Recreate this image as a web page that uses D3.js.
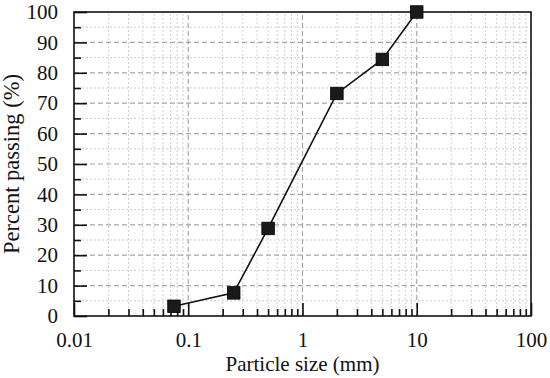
<!DOCTYPE html>
<html>
<head>
<meta charset="utf-8">
<script src="https://cdn.jsdelivr.net/npm/d3@7"></script>
<style>
  body { margin: 0; background: #fff; }
</style>
</head>
<body>
<svg id="chart"></svg>
<script>
const width = 550
const height = 378
const serif = '"Liberation Serif", "Times New Roman", serif'

// particle size (mm) vs percent passing (%)
const sizes = [0.075, 0.25, 0.5, 2, 5, 10]
const passing = [3.2, 7.6, 28.8, 73.2, 84.4, 100]
const xTicks = [0.01, 0.1, 1, 10, 100]
const yTicks = [0, 10, 20, 30, 40, 50, 60, 70, 80, 90, 100]

const margin = { top: 12, right: 19, bottom: 62, left: 74 }

const svg = d3.select('#chart').attr('width', width).attr('height', height)

const x = d3.scaleLog().domain([0.01, 100]).range([margin.left, width - margin.right])
const y = d3.scaleLinear().domain([0, 100]).range([height - margin.bottom, margin.top])

const x0 = x.range()[0], x1 = x.range()[1]
const y0 = y.range()[0], y1 = y.range()[1]

// minor positions
const xMinor = []
for (let d = 0.01; d < 100; d *= 10) {
  for (let k = 2; k <= 9; k++) xMinor.push(+(d * k).toPrecision(3))
}
const yMinor = d3.range(5, 100, 10)

const grid = svg.append('g').attr('class', 'grid')

grid.selectAll('.xminor')
  .data(xMinor)
  .enter().append('line')
  .attr('x1', d => x(d)).attr('x2', d => x(d))
  .attr('y1', y0).attr('y2', y1)
  .attr('stroke', '#cfcfcf').attr('stroke-width', 1)
  .attr('stroke-dasharray', '2,2')

grid.selectAll('.yminor')
  .data(yMinor)
  .enter().append('line')
  .attr('x1', x0).attr('x2', x1)
  .attr('y1', d => y(d)).attr('y2', d => y(d))
  .attr('stroke', '#cfcfcf').attr('stroke-width', 1)
  .attr('stroke-dasharray', '2,2')

grid.selectAll('.xmajor')
  .data(xTicks.slice(1, -1))
  .enter().append('line')
  .attr('x1', d => x(d)).attr('x2', d => x(d))
  .attr('y1', y0).attr('y2', y1)
  .attr('stroke', '#a8a8a8').attr('stroke-width', 1.2)
  .attr('stroke-dasharray', '5,3')

grid.selectAll('.ymajor')
  .data(yTicks.slice(1, -1))
  .enter().append('line')
  .attr('x1', x0).attr('x2', x1)
  .attr('y1', d => y(d)).attr('y2', d => y(d))
  .attr('stroke', '#a8a8a8').attr('stroke-width', 1.2)
  .attr('stroke-dasharray', '5,3')

// axes with inward ticks
svg.append('g')
  .attr('transform', `translate(0,${y0})`)
  .call(d3.axisBottom(x).tickValues(xTicks).tickSize(-13).tickPadding(16).tickFormat(d => String(d)))
svg.append('g')
  .attr('transform', `translate(0,${y0})`)
  .call(d3.axisBottom(x).tickValues(xMinor).tickSize(-7).tickFormat(''))

svg.append('g')
  .attr('transform', `translate(${x0},0)`)
  .call(d3.axisLeft(y).tickValues(yTicks).tickSize(-13).tickPadding(16))
svg.append('g')
  .attr('transform', `translate(${x0},0)`)
  .call(d3.axisLeft(y).tickValues(yMinor).tickSize(-7).tickFormat(''))

svg.selectAll('.domain').remove()
svg.selectAll('.tick line').attr('stroke', '#111').attr('stroke-width', 1.6)
svg.selectAll('.tick text')
  .style('font-family', serif)
  .style('font-size', '21px')
  .attr('fill', '#111')

// frame
svg.append('rect')
  .attr('x', x0).attr('y', y1)
  .attr('width', x1 - x0).attr('height', y0 - y1)
  .attr('fill', 'none').attr('stroke', '#111').attr('stroke-width', 1.6)

// series
const points = sizes.map((s, i) => ({ s, p: passing[i] }))

svg.append('path')
  .datum(points)
  .attr('fill', 'none')
  .attr('stroke', '#111')
  .attr('stroke-width', 1.6)
  .attr('d', d3.line().x(d => x(d.s)).y(d => y(d.p)))

const m = 12.5
svg.append('g').selectAll('rect')
  .data(points)
  .enter().append('rect')
  .attr('x', d => x(d.s) - m / 2)
  .attr('y', d => y(d.p) - m / 2)
  .attr('width', m).attr('height', m)
  .attr('fill', '#1a1a1a')
  .attr('stroke', '#000').attr('stroke-width', 0.8)

// axis titles
svg.append('text')
  .attr('x', (x0 + x1) / 2)
  .attr('y', 371)
  .attr('text-anchor', 'middle')
  .style('font-family', serif)
  .style('font-size', '21px')
  .attr('fill', '#111')
  .text('Particle size (mm)')

svg.append('text')
  .attr('transform', `translate(19,${(y0 + y1) / 2}) rotate(-90)`)
  .attr('text-anchor', 'middle')
  .style('font-family', serif)
  .style('font-size', '22.5px')
  .attr('fill', '#111')
  .text('Percent passing (%)')
</script>
</body>
</html>
